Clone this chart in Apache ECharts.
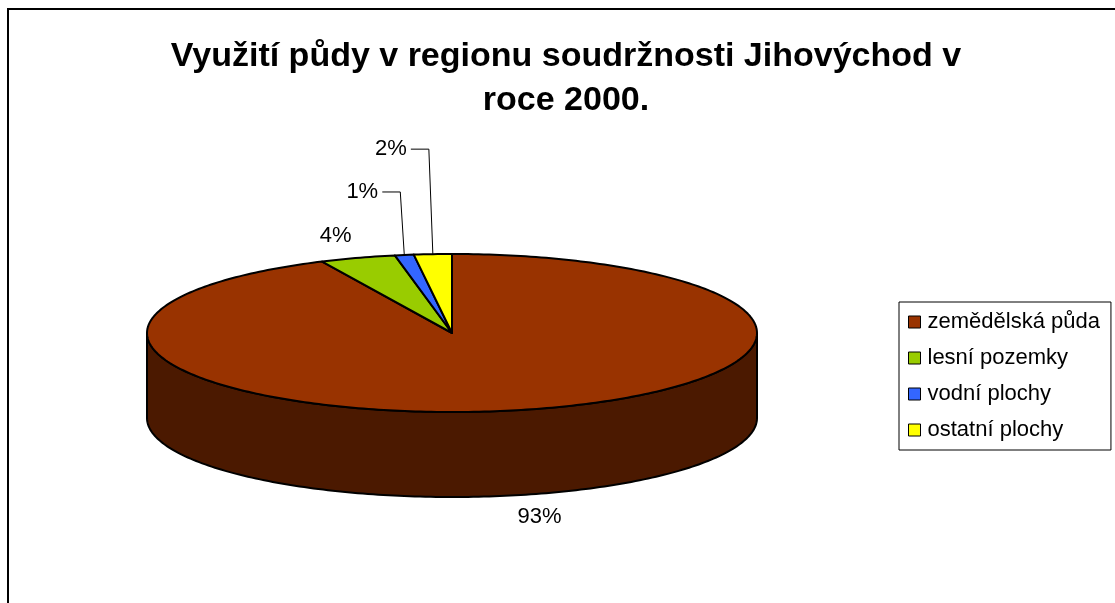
<!DOCTYPE html>
<html>
<head>
<meta charset="utf-8">
<script src="https://cdn.jsdelivr.net/npm/echarts@6/dist/echarts.min.js"></script>
<style>
html, body { margin: 0; padding: 0; background: #fff; }
#chart { width: 1115px; height: 603px; }
</style>
</head>
<body>
<div id="chart"></div>
<script>
// data
var categories = ['zemědělská půda', 'lesní pozemky', 'vodní plochy', 'ostatní plochy'];
var shares = [93, 4, 1, 2];
var topColors = ['#993300', '#99cc00', '#3366ff', '#ffff00'];
var sideColors = ['#4b1900', '#4c6600', '#1a3380', '#808000'];

// ellipse of the 3D pie (pixels)
var geo = { cx: 452, cy: 333, rx: 305, ry: 79, depth: 85 };
// where each percent label sits relative to its rim point
var labelPos = [
    { dx: 21, dy: 22, leader: false },
    { dx: -22, dy: -22, leader: false },
    { dx: -42, dy: -63, leader: true },
    { dx: -42, dy: -105, leader: true }
];
var fontName = 'Liberation Sans, Arial, sans-serif';

var total = shares.reduce(function (s, v) { return s + v; }, 0);

function pt(deg, bottom) {
    var r = deg * Math.PI / 180;
    return [geo.cx + geo.rx * Math.sin(r), geo.cy - geo.ry * Math.cos(r) + (bottom ? geo.depth : 0)];
}
function arc(a, b, bottom) {
    var pts = [];
    var n = Math.max(2, Math.ceil(b - a));
    for (var i = 0; i <= n; i++) {
        pts.push(pt(a + (b - a) * i / n, bottom));
    }
    return pts;
}

function makeRender(idx) {
    return function (params, api) {
        var a = api.value(1) / total * 360;
        var b = a + api.value(0) / total * 360;
        var children = [];
        // front wall
        var s = Math.max(a, 90), e = Math.min(b, 270);
        if (e > s) {
            children.push({
                type: 'polygon',
                shape: { points: arc(s, e, false).concat(arc(s, e, true).reverse()) },
                style: { fill: sideColors[idx], stroke: '#000', lineWidth: 2 }
            });
        }
        // top face
        children.push({
            type: 'polygon',
            shape: { points: [[geo.cx, geo.cy]].concat(arc(a, b, false)) },
            style: { fill: api.visual('color'), stroke: '#000', lineWidth: 2, lineJoin: 'round' }
        });
        // label
        var mid = (a + b) / 2;
        var front = mid > 90 && mid < 270;
        var p = pt(mid, front);
        var lp = labelPos[idx];
        var lx = p[0] + lp.dx, ly = p[1] + lp.dy;
        if (lp.leader) {
            children.push({
                type: 'polyline',
                shape: { points: [p, [p[0] - 4, ly], [lx + 20, ly]] },
                style: { stroke: '#000', lineWidth: 1, fill: null }
            });
        }
        children.push({
            type: 'text',
            x: lx,
            y: ly,
            style: {
                text: Math.round(api.value(0) / total * 100) + '%',
                fill: '#000',
                font: '22px ' + fontName,
                align: 'center',
                verticalAlign: 'middle'
            }
        });
        return { type: 'group', children: children };
    };
}

var seriesList = [];
var start = 0;
for (var i = 0; i < categories.length; i++) {
    seriesList.push({
        type: 'custom',
        name: categories[i],
        coordinateSystem: 'none',
        itemStyle: { color: topColors[i] },
        data: [[shares[i], start]],
        renderItem: makeRender(i)
    });
    start += shares[i];
}

var chart = echarts.init(document.getElementById('chart'));
chart.setOption({
    animation: false,
    backgroundColor: '#fff',
    title: {
        text: 'Využití půdy v regionu soudržnosti Jihovýchod v\nroce 2000.',
        left: 566,
        textAlign: 'center',
        top: 35,
        padding: 0,
        textStyle: {
            fontFamily: fontName,
            fontWeight: 'bold',
            fontSize: 34,
            lineHeight: 44,
            color: '#000'
        }
    },
    legend: {
        orient: 'vertical',
        left: 899,
        top: 302,
        padding: [9, 11, 9, 9],
        itemGap: 14,
        itemWidth: 12,
        itemHeight: 12,
        icon: 'rect',
        borderColor: '#000',
        borderWidth: 1,
        itemStyle: { borderColor: '#000', borderWidth: 1 },
        textStyle: { fontFamily: fontName, fontSize: 22, color: '#000', padding: [0, 0, 0, 2] },
        data: categories
    },
    graphic: [{
        type: 'rect',
        shape: { x: 8, y: 9, width: 1200, height: 700 },
        style: { fill: null, stroke: '#000', lineWidth: 2 },
        silent: true
    }],
    series: seriesList
});
</script>
</body>
</html>
